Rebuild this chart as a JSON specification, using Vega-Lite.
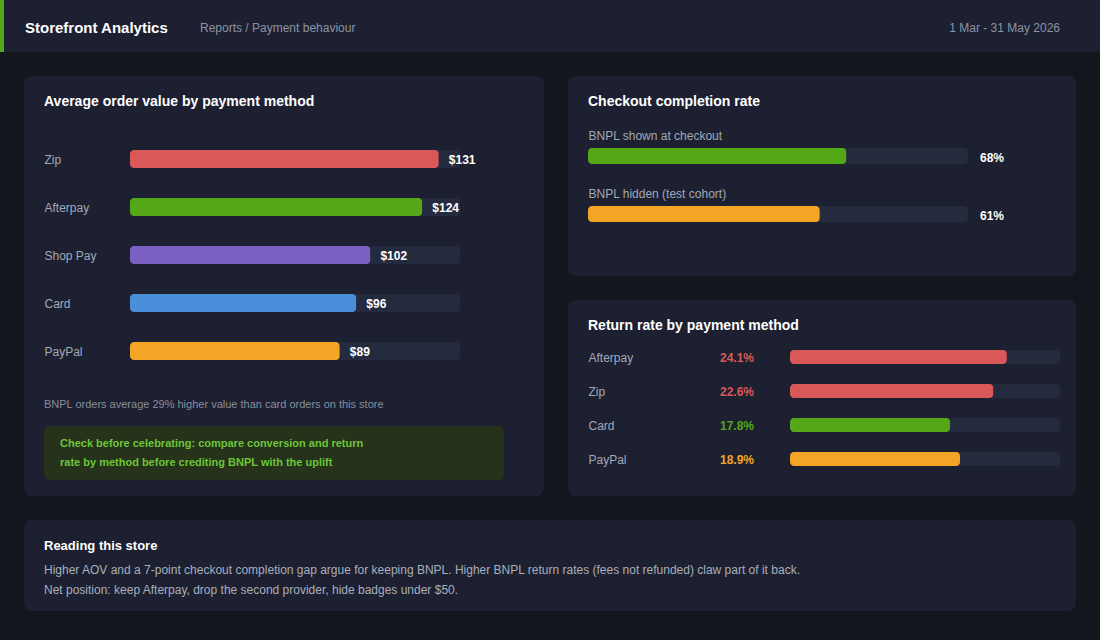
{
  "$schema": "https://vega.github.io/schema/vega-lite/v6.json",
  "background": "#13161d",
  "padding": {"left": 0, "top": 0, "right": 0, "bottom": 29},
  "config": {
    "view": {"stroke": null},
    "font": "Liberation Sans",
    "title": {"font": "Liberation Sans", "fontSize": 14, "fontWeight": "bold", "color": "#ffffff", "anchor": "start", "frame": "group", "offset": -33, "dx": 20, "baseline": "alphabetic"},
    "axis": {"labelFont": "Liberation Sans"},
    "text": {"font": "Liberation Sans"}
  },
  "bounds": "full",
  "spacing": 24,
  "resolve": {"scale": {"color": "independent"}},
  "vconcat": [
    {
      "bounds": "flush",
      "spacing": 0,
      "resolve": {"scale": {"color": "independent"}},
      "hconcat": [
        {"width": 4, "height": 52, "view": {"fill": "#52a818"}, "data": {"values": [{}]}, "mark": {"type": "text", "text": ""}},
        {
          "width": 1096, "height": 52, "view": {"fill": "#1c2030"},
          "data": {"values": [{"brand": "Storefront Analytics", "crumb": "Reports / Payment behaviour", "period": "1 Mar - 31 May 2026"}]},
          "layer": [
            {"mark": {"type": "text", "x": 21, "y": 28, "align": "left", "baseline": "middle", "fontSize": 15, "fontWeight": "bold", "color": "#ffffff"}, "encoding": {"text": {"field": "brand"}}},
            {"mark": {"type": "text", "x": 196, "y": 28, "align": "left", "baseline": "middle", "fontSize": 12, "color": "#8d93a3"}, "encoding": {"text": {"field": "crumb"}}},
            {"mark": {"type": "text", "x": 1056, "y": 28, "align": "right", "baseline": "middle", "fontSize": 12, "color": "#8d93a3"}, "encoding": {"text": {"field": "period"}}}
          ]
        }
      ]
    },
    {
      "bounds": "full",
      "spacing": 23,
      "resolve": {"scale": {"color": "independent"}},
      "hconcat": [
        {"width": 1, "height": 420, "data": {"values": [{}]}, "mark": {"type": "text", "text": ""}},
        {
          "bounds": "full",
          "spacing": 24,
          "resolve": {"scale": {"color": "independent"}},
          "hconcat": [
            {
              "width": 520, "height": 420,
              "view": {"fill": "#1c2030", "cornerRadius": 8},
              "title": {"text": "Average order value by payment method"},
              "layer": [
                {
                  "data": {"values": [
                    {"method": "Zip", "aov": 131},
                    {"method": "Afterpay", "aov": 124},
                    {"method": "Shop Pay", "aov": 102},
                    {"method": "Card", "aov": 96},
                    {"method": "PayPal", "aov": 89}
                  ]},
                  "encoding": {
                    "y": {"field": "method", "type": "nominal", "sort": null,
                      "scale": {"range": [59, 299], "paddingInner": 0.625, "paddingOuter": 0.3125},
                      "axis": {"orient": "left", "offset": -20, "domain": false, "ticks": false, "grid": false, "labelPadding": 0, "labelAlign": "left", "labelOffset": 1, "labelFontSize": 12, "labelColor": "#a3a9b8", "title": null}}
                  },
                  "layer": [
                    {"mark": {"type": "bar", "color": "#252b3e", "cornerRadius": 4},
                     "encoding": {"x": {"datum": 140, "type": "quantitative", "scale": {"domain": [0, 140], "range": [106, 436]}, "axis": null}}},
                    {"mark": {"type": "bar", "cornerRadius": 4},
                     "encoding": {
                       "x": {"field": "aov", "type": "quantitative"},
                       "color": {"field": "method", "type": "nominal", "legend": null,
                         "scale": {"domain": ["Zip", "Afterpay", "Shop Pay", "Card", "PayPal"], "range": ["#db5858", "#54a818", "#7b62c2", "#4a8fd9", "#f4a525"]}}
                     }},
                    {"mark": {"type": "text", "align": "left", "baseline": "middle", "dx": 10, "dy": 1, "fontSize": 12, "fontWeight": "bold", "color": "#ffffff"},
                     "encoding": {"x": {"field": "aov", "type": "quantitative"}, "text": {"field": "aov", "format": "$,.0f"}}}
                  ]
                },
                {
                  "data": {"values": [{"note": "BNPL orders average 29% higher value than card orders on this store"}]},
                  "mark": {"type": "text", "x": 20, "y": 329, "align": "left", "baseline": "middle", "fontSize": 11, "color": "#878d9d"},
                  "encoding": {"text": {"field": "note"}}
                },
                {
                  "data": {"values": [{}]},
                  "mark": {"type": "rect", "x": 20, "x2": 480, "y": 350, "y2": 404, "color": "#263219", "cornerRadius": 6},
                  "encoding": {}
                },
                {
                  "data": {"values": [{"line": "Check before celebrating: compare conversion and return"}]},
                  "mark": {"type": "text", "x": 36, "y": 368, "align": "left", "baseline": "middle", "fontSize": 11, "fontWeight": "bold", "color": "#6cc63b"},
                  "encoding": {"text": {"field": "line"}}
                },
                {
                  "data": {"values": [{"line": "rate by method before crediting BNPL with the uplift"}]},
                  "mark": {"type": "text", "x": 36, "y": 387, "align": "left", "baseline": "middle", "fontSize": 11, "fontWeight": "bold", "color": "#6cc63b"},
                  "encoding": {"text": {"field": "line"}}
                }
              ]
            },
            {
              "bounds": "flush",
              "spacing": 24,
              "resolve": {"scale": {"color": "independent"}},
              "vconcat": [
                {
                  "width": 508, "height": 200,
                  "view": {"fill": "#1c2030", "cornerRadius": 8},
                  "title": {"text": "Checkout completion rate"},
                  "data": {"values": [
                    {"cohort": "BNPL shown at checkout", "rate": 0.68},
                    {"cohort": "BNPL hidden (test cohort)", "rate": 0.61}
                  ]},
                  "encoding": {
                    "y": {"field": "cohort", "type": "nominal", "sort": null,
                      "scale": {"range": [51, 167], "paddingInner": 0.7241, "paddingOuter": 0.362},
                      "axis": {"orient": "left", "offset": -20, "domain": false, "ticks": false, "grid": false, "labelPadding": 0, "labelAlign": "left", "labelOffset": -20, "labelLimit": 400, "labelFontSize": 12, "labelColor": "#a3a9b8", "title": null}}
                  },
                  "layer": [
                    {"mark": {"type": "bar", "color": "#252b3e", "cornerRadius": 4},
                     "encoding": {"x": {"datum": 1, "type": "quantitative", "scale": {"domain": [0, 1], "range": [20, 400]}, "axis": null}}},
                    {"mark": {"type": "bar", "cornerRadius": 4},
                     "encoding": {
                       "x": {"field": "rate", "type": "quantitative"},
                       "color": {"field": "cohort", "type": "nominal", "legend": null,
                         "scale": {"domain": ["BNPL shown at checkout", "BNPL hidden (test cohort)"], "range": ["#54a818", "#f4a525"]}}
                     }},
                    {"mark": {"type": "text", "align": "left", "baseline": "middle", "dx": 12, "dy": 2, "fontSize": 12, "fontWeight": "bold", "color": "#ffffff"},
                     "encoding": {"x": {"datum": 1, "type": "quantitative"}, "text": {"field": "rate", "format": ".0%"}}}
                  ]
                },
                {
                  "width": 508, "height": 196,
                  "view": {"fill": "#1c2030", "cornerRadius": 8},
                  "title": {"text": "Return rate by payment method"},
                  "data": {"values": [
                    {"method": "Afterpay", "returns": 0.241},
                    {"method": "Zip", "returns": 0.226},
                    {"method": "Card", "returns": 0.178},
                    {"method": "PayPal", "returns": 0.189}
                  ]},
                  "encoding": {
                    "y": {"field": "method", "type": "nominal", "sort": null,
                      "scale": {"range": [40, 176], "paddingInner": 0.588, "paddingOuter": 0.294},
                      "axis": {"orient": "left", "offset": -20, "domain": false, "ticks": false, "grid": false, "labelPadding": 0, "labelAlign": "left", "labelOffset": 1, "labelFontSize": 12, "labelColor": "#a3a9b8", "title": null}}
                  },
                  "layer": [
                    {"mark": {"type": "bar", "color": "#252b3e", "cornerRadius": 4},
                     "encoding": {"x": {"datum": 0.3, "type": "quantitative", "scale": {"domain": [0, 0.3], "range": [222, 492]}, "axis": null}}},
                    {"mark": {"type": "bar", "cornerRadius": 4},
                     "encoding": {
                       "x": {"field": "returns", "type": "quantitative"},
                       "color": {"field": "method", "type": "nominal", "legend": null,
                         "scale": {"domain": ["Afterpay", "Zip", "Card", "PayPal"], "range": ["#db5858", "#db5858", "#54a818", "#f4a525"]}}
                     }},
                    {"mark": {"type": "text", "align": "left", "baseline": "middle", "dx": -70, "dy": 1, "fontSize": 12, "fontWeight": "bold"},
                     "encoding": {
                       "x": {"datum": 0, "type": "quantitative"},
                       "text": {"field": "returns", "format": ".1%"},
                       "color": {"field": "method", "type": "nominal", "legend": null}
                     }}
                  ]
                }
              ]
            }
          ]
        }
      ]
    },
    {
      "bounds": "flush",
      "spacing": 23,
      "resolve": {"scale": {"color": "independent"}},
      "hconcat": [
        {"width": 1, "height": 91, "data": {"values": [{}]}, "mark": {"type": "text", "text": ""}},
        {
          "width": 1052, "height": 91,
          "view": {"fill": "#1c2030", "cornerRadius": 8},
          "title": {"text": "Reading this store", "fontSize": 13},
          "data": {"values": [
            {"order": 1, "line": "Higher AOV and a 7-point checkout completion gap argue for keeping BNPL. Higher BNPL return rates (fees not refunded) claw part of it back."},
            {"order": 2, "line": "Net position: keep Afterpay, drop the second provider, hide badges under $50."}
          ]},
          "mark": {"type": "text", "x": 20, "align": "left", "baseline": "middle", "fontSize": 12, "color": "#a9afbc"},
          "encoding": {
            "y": {"field": "order", "type": "ordinal", "scale": {"range": [40, 80], "paddingInner": 0, "paddingOuter": 0}, "axis": null},
            "text": {"field": "line"}
          }
        }
      ]
    }
  ]
}
